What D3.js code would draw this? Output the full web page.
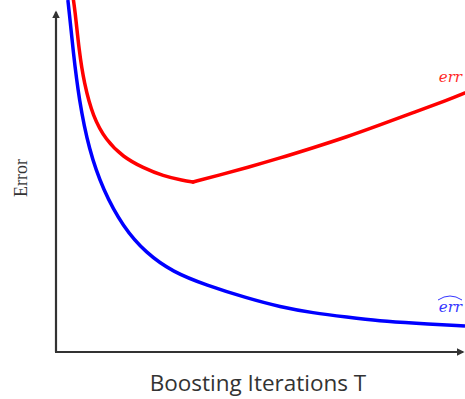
<!DOCTYPE html>
<html>
<head>
<meta charset="utf-8">
<script src="https://cdn.jsdelivr.net/npm/d3@7"></script>
<style>
	body { margin: 0; background: #fff; }
	svg { display: block; }
</style>
</head>
<body>
<div id="app"></div>
<script>
// boosting iterations (0-100 scale) and error (0-100 scale)
const testIter = [3.9, 4.65, 5.62, 6.85, 9.05, 12.2, 16.4, 21.3, 26.2, 31.1, 33.5, 40.1, 46.7, 54.8, 62.8, 71.1, 79.2, 87.3, 95.6, 100];
const testErr = [102.8, 97.2, 85.8, 76.4, 66.8, 60.2, 55.4, 52.3, 50.0, 48.7, 48.3, 50.3, 52.4, 55.1, 58.0, 61.1, 64.5, 68.0, 71.5, 73.6];

const trainIter = [2.9, 3.18, 4.16, 5.62, 8.07, 11.5, 16.4, 22.0, 28.6, 36.7, 46.7, 54.8, 62.8, 71.1, 79.2, 87.3, 100];
const trainErr = [100, 97.2, 85.8, 71.6, 57.4, 46.0, 35.5, 28.1, 22.7, 19.0, 15.3, 12.8, 11.1, 9.9, 8.8, 8.2, 7.4];

const xLabel = 'Boosting Iterations T';
const yLabel = 'Error';

const chart = () => {

	const W = 465, H = 399;
	const margin = { top: 0, right: 0, bottom: 47, left: 56 };

	const svg = d3.select('#app').append('svg')
		.attr('width', W)
		.attr('height', H);

	const x = d3.scaleLinear()
		.domain([0, 100])
		.range([margin.left, W - margin.right]);

	const y = d3.scaleLinear()
		.domain([0, 100])
		.range([H - margin.bottom, 0]);

	const axisColor = '#333';
	const x0 = x(0), y0 = y(0);

	const defs = svg.append('defs');

	// axes with arrows
	defs.append('marker')
		.attr('id', 'arrow')
		.attr('viewBox', '0 0 10 10')
		.attr('refX', 8).attr('refY', 5)
		.attr('markerWidth', 3.5).attr('markerHeight', 3.5)
		.attr('orient', 'auto')
		.append('path')
		.attr('d', 'M0,0 L10,5 L0,10 z')
		.attr('fill', axisColor);

	defs.append('clipPath')
		.attr('id', 'plot')
		.append('rect')
		.attr('x', x0).attr('y', 0)
		.attr('width', W - x0).attr('height', y0);

	svg.append('line')
		.attr('x1', x0).attr('y1', y0)
		.attr('x2', x0).attr('y2', 12)
		.attr('stroke', axisColor)
		.attr('stroke-width', 2.2)
		.attr('marker-end', 'url(#arrow)');

	svg.append('line')
		.attr('x1', x0 - 1).attr('y1', y0)
		.attr('x2', W - 2).attr('y2', y0)
		.attr('stroke', axisColor)
		.attr('stroke-width', 2.2)
		.attr('marker-end', 'url(#arrow)');

	const line = d3.line()
		.x(d => x(d[0]))
		.y(d => y(d[1]))
		.curve(d3.curveBasis);

	const g = svg.append('g').attr('clip-path', 'url(#plot)');

	// test error: smooth on each side of its minimum, with a corner at the minimum
	const test = d3.zip(testIter, testErr);
	const iMin = d3.minIndex(testErr);
	[test.slice(0, iMin + 1), test.slice(iMin)].forEach(part => {
		g.append('path')
			.datum(part)
			.attr('d', line)
			.attr('fill', 'none')
			.attr('stroke', '#ff0000')
			.attr('stroke-width', 3.5)
			.attr('stroke-linecap', 'round');
	});

	g.append('path')
		.datum(d3.zip(trainIter, trainErr))
		.attr('d', line)
		.attr('fill', 'none')
		.attr('stroke', '#0000ff')
		.attr('stroke-width', 3.5);

	// curve labels
	svg.append('text')
		.attr('x', 462).attr('y', 82)
		.attr('text-anchor', 'end')
		.attr('font-family', '"DejaVu Serif", serif')
		.attr('font-style', 'italic')
		.attr('font-size', 15)
		.attr('fill', '#ff2a2a')
		.text('err');

	const hat = svg.append('g');
	hat.append('text')
		.attr('x', 462).attr('y', 312)
		.attr('text-anchor', 'end')
		.attr('font-family', '"DejaVu Serif", serif')
		.attr('font-style', 'italic')
		.attr('font-size', 15)
		.attr('fill', '#3535ff')
		.text('err');
	hat.append('path')
		.attr('d', 'M438,300 Q450,292 462,300')
		.attr('fill', 'none')
		.attr('stroke', '#3535ff')
		.attr('stroke-width', 1);

	// axis titles
	svg.append('text')
		.attr('transform', `translate(27,178) rotate(-90)`)
		.attr('text-anchor', 'middle')
		.attr('font-family', '"Liberation Serif", "DejaVu Serif", serif')
		.attr('font-size', 18)
		.attr('fill', '#333')
		.text(yLabel);

	svg.append('text')
		.attr('x', 258).attr('y', 391)
		.attr('text-anchor', 'middle')
		.attr('font-family', '"Open Sans", sans-serif')
		.attr('font-size', 22.5)
		.attr('fill', '#333')
		.text(xLabel);
};

chart();
</script>
</body>
</html>
